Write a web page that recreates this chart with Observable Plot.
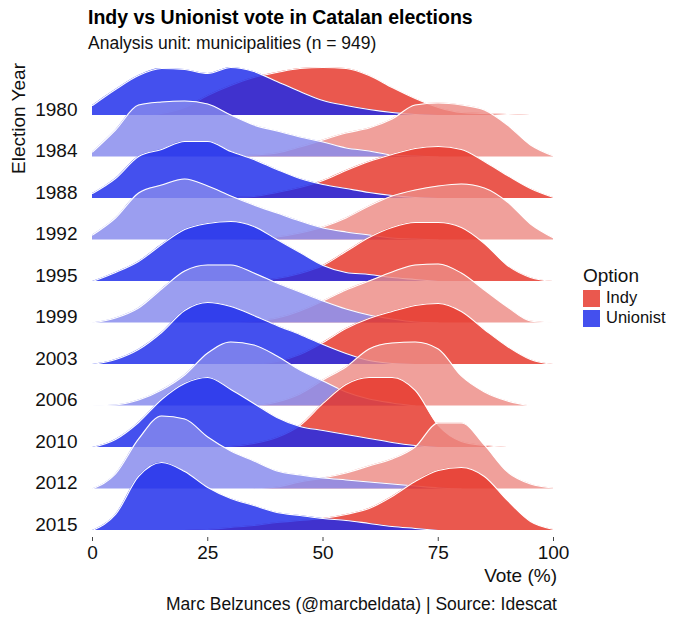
<!DOCTYPE html>
<html>
<head>
<meta charset="utf-8">
<script src="https://cdn.jsdelivr.net/npm/d3@7"></script>
<script src="https://cdn.jsdelivr.net/npm/@observablehq/plot@0.6"></script>
<style>
  html, body { margin: 0; padding: 0; background: #fff; }
  #wrap { position: relative; width: 680px; height: 618px; font-family: "Liberation Sans", Arial, Helvetica, sans-serif; color: #111; overflow: hidden; }
  .abs { position: absolute; white-space: nowrap; line-height: 1.2; }
  #chart { position: absolute; left: 0; top: 58px; }
</style>
</head>
<body>
<div id="wrap">
  <div class="abs" style="left:88px; top:6px; font-size:19.5px; font-weight:bold; color:#000;">Indy vs Unionist vote in Catalan elections</div>
  <div class="abs" style="left:88px; top:33px; font-size:17.5px;">Analysis unit: municipalities (n = 949)</div>
  <div class="abs" style="left:9px; top:63px; font-size:19px; line-height:1; writing-mode:vertical-rl; transform:rotate(180deg);">Election Year</div>
  <div id="chart"></div>
  <div class="abs" style="right:123px; top:565px; font-size:19px;">Vote (%)</div>
  <div class="abs" style="left:583px; top:265px; font-size:19px;">Option</div>
  <div id="legend"></div>
  <div class="abs" style="right:123px; top:594px; font-size:17.5px;">Marc Belzunces (@marcbeldata) | Source: Idescat</div>
</div>
<script>
// ---- data ----
const years = ["1980","1984","1988","1992","1995","1999","2003","2006","2010","2012","2015"];
const options = ["Indy", "Unionist"];
// vote share grid (%)
const votes = [0,5,10,15,20,25,30,35,40,45,50,55,60,65,70,75,80,85,90,95,100];
// relative density heights (ridge units), one row per election year
const unionistDensity = [
  [10,26,40,47,46,42,48,44,34,24,15,10,6,3,1,0,0,0,0,0,0],
  [5,27,52,55,56,53,42,32,26,20,15,9,6,2,1,0,0,0,0,0,0],
  [5,20,42,49,57,57,47,39,29,20,14,10,6,3,1,0,0,0,0,0,0],
  [5,22,47,55,61,54,44,35,27,19,12,8,5,2,1,0,0,0,0,0,0],
  [0,9,20,37,52,58,60,55,42,29,16,9,7,4,2,0,0,0,0,0,0],
  [0,5,15,34,52,58,58,50,40,31,22,14,8,4,1,0,0,0,0,0,0],
  [0,5,15,32,54,62,58,49,39,30,20,11,4,1,0,0,0,0,0,0,0],
  [0,1,6,16,31,53,64,61,50,36,25,14,7,3,0,0,0,0,0,0,0],
  [0,8,25,48,64,70,58,44,30,21,17,13,9,5,2,0,0,0,0,0,0],
  [0,15,50,73,70,52,38,28,18,14,11,9,7,5,3,1,0,0,0,0,0],
  [0,16,54,68,59,43,32,25,18,15,12,10,7,4,2,0,0,0,0,0,0]
];
const indyDensity = [
  [0,0,0,2,8,20,30,38,43,47,48,47,40,28,17,8,3,2,1,0,0],
  [0,0,0,0,0,0,1,2,4,10,17,24,29,38,52,54,52,47,32,12,1],
  [0,0,0,0,0,0,1,2,6,11,18,28,37,44,50,52,49,37,23,10,1],
  [0,0,0,0,0,0,0,1,3,7,13,22,34,44,50,54,56,52,38,16,2],
  [0,0,0,0,0,0,0,1,3,8,16,30,44,54,59,59,54,38,16,4,0],
  [0,0,0,0,0,0,0,2,5,12,22,33,42,51,58,59,50,33,16,2,0],
  [0,0,0,0,0,0,0,0,3,10,22,36,46,53,59,61,53,35,18,5,0],
  [0,0,0,0,0,0,0,0,4,12,26,39,57,63,64,57,30,14,5,0,0],
  [0,0,0,0,0,0,1,4,10,22,44,63,70,70,57,22,6,2,0,0,0],
  [0,0,0,0,0,0,0,0,2,7,11,16,23,30,42,66,66,44,17,5,1],
  [0,0,0,0,0,1,3,5,8,10,12,16,22,34,49,60,63,54,30,9,1]
];
const xTicks = [0, 25, 50, 75, 100];

// ---- styling ----
const ridgeUnit = 41.5; // density units per row step (ridge scale)
const fillAlpha = 0.82;
const fills = {
  Indy: ["rgb(229,51,39)", "rgb(237,139,133)"],      // dark / light (cyclical)
  Unionist: ["rgb(27,42,234)", "rgb(133,137,237)"]
};
const legendColors = {Indy: "#ea584e", Unionist: "#4450ee"};

function rowsFor(dens, base) {
  let i0 = dens.findIndex(h => h > 0);
  let i1 = dens.length - 1 - [...dens].reverse().findIndex(h => h > 0);
  i0 = Math.max(0, i0 - 1);
  i1 = Math.min(dens.length - 1, i1 + 1);
  const out = [];
  for (let k = i0; k <= i1; k++) {
    out.push({vote: votes[k], base, top: base + dens[k] / ridgeUnit});
  }
  return out;
}

const n = years.length;
const marks = [];
years.forEach((yr, i) => {
  const base = (n - 1) - i;
  const shade = i % 2;
  [["Indy", indyDensity[i]], ["Unionist", unionistDensity[i]]].forEach(([opt, dens]) => {
    const rows = rowsFor(dens, base);
    marks.push(Plot.areaY(rows, {x: "vote", y1: "base", y2: "top", fill: fills[opt][shade], fillOpacity: fillAlpha, curve: "monotone-x"}));
    marks.push(Plot.line(rows, {x: "vote", y: "top", stroke: "white", strokeWidth: 1.1, curve: "monotone-x"}));
  });
});

const baselines = d3.range(n);
marks.push(Plot.axisX({ticks: xTicks, tickSize: 4, tickPadding: 4, fontSize: 19, stroke: "#444", fill: "#111", label: null}));
marks.push(Plot.axisY({ticks: baselines, tickSize: 0, tickPadding: 15, fontSize: 19, fill: "#111", dy: -6,
  tickFormat: d => years[(n - 1) - d], label: null}));

const chart = Plot.plot({
  width: 680,
  height: 540,
  marginLeft: 92,
  marginRight: 127,
  marginTop: 57,
  marginBottom: 61,
  x: {domain: [0, 100]},
  y: {domain: [-0.17, n - 1]},
  style: {fontFamily: '"Liberation Sans", Arial, Helvetica, sans-serif', background: "transparent", color: "#111"},
  marks
});
document.getElementById("chart").appendChild(chart);

// legend
const leg = document.getElementById("legend");
options.forEach((opt, j) => {
  const sw = document.createElement("div");
  sw.style.cssText = `position:absolute;left:583px;top:${290 + j * 20}px;width:17px;height:17px;background:${legendColors[opt]};`;
  leg.appendChild(sw);
  const lb = document.createElement("div");
  lb.className = "abs";
  lb.style.cssText += `left:606px;top:${288 + j * 20}px;font-size:16.5px;`;
  lb.textContent = opt;
  leg.appendChild(lb);
});
</script>
</body>
</html>
